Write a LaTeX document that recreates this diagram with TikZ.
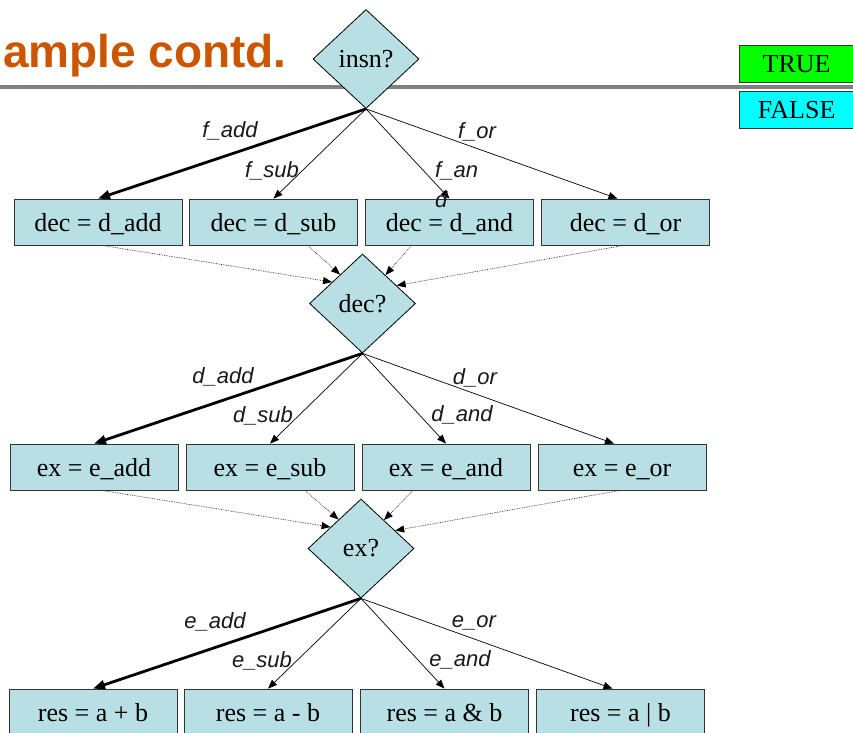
\documentclass[tikz,border=0pt]{standalone}
\usepackage{fontspec}
\setmainfont{Liberation Serif}
\setsansfont{Liberation Sans}
\usetikzlibrary{shapes.geometric,arrows.meta,calc}
\definecolor{boxfill}{RGB}{184,224,228}
\definecolor{titleorange}{RGB}{204,85,0}
\definecolor{rulegray}{RGB}{128,128,128}
\definecolor{edgegray}{RGB}{51,51,51}
\definecolor{truegreen}{RGB}{0,255,0}
\definecolor{falsecyan}{RGB}{0,255,255}

\begin{document}
\begin{tikzpicture}[x=1pt,y=-1pt,
  stepbox/.style={draw=edgegray, line width=0.8pt, fill=boxfill, minimum width=168pt,
    minimum height=46pt, inner sep=0pt, text height=21pt, text depth=3pt,
    font=\fontsize{26}{30}\selectfont},
  decision/.style={diamond, aspect=1.07, draw=black, line width=0.8pt, fill=boxfill,
    minimum width=106pt, minimum height=99pt, inner sep=0pt, font=\fontsize{26}{30}\selectfont},
  lbl/.style={font=\sffamily\itshape\fontsize{22}{30}\selectfont, inner sep=0pt, text=black!90},
  taken/.style={line width=2.8pt, -{Triangle[length=12pt,width=9pt]}},
  branch/.style={line width=0.7pt, -{Triangle[length=9pt,width=7pt]}},
  merge/.style={line width=0.7pt, densely dotted, draw=black!85,
    -{Triangle[length=9pt,width=7pt,color=black]}},
  legend/.style={draw=edgegray, line width=0.8pt, minimum width=114.5pt, minimum height=37pt,
    inner sep=0pt, text height=21pt, text depth=3pt, font=\fontsize{26}{30}\selectfont}
]
\clip (0,0) rectangle (853,732);

% heading and rule
\node[anchor=base east, font=\sffamily\bfseries\fontsize{46}{52}\selectfont,
  text=titleorange, inner sep=0pt] (title) at (287,67) {ample contd.};
\fill[rulegray] (0,85) rectangle (853,89);

% legend
\node[legend, fill=truegreen, anchor=north west] (ltrue) at (739,45) {TRUE};
\node[legend, fill=falsecyan, anchor=north west] (lfalse) at (739,91) {FALSE};

% decisions
\node[decision] (insn) at (366,59) {insn?};
\node[decision] (dec) at (362.5,303.5) {dec?};
\node[decision] (ex) at (361,548.5) {ex?};

% decode row
\node[stepbox] (d1) at (98,222) {dec = d\_add};
\node[stepbox] (d2) at (273.5,222) {dec = d\_sub};
\node[stepbox] (d3) at (449.5,222) {dec = d\_and};
\node[stepbox] (d4) at (625.5,222) {dec = d\_or};

% execute row
\node[stepbox] (e1) at (94,467) {ex = e\_add};
\node[stepbox] (e2) at (270,467) {ex = e\_sub};
\node[stepbox] (e3) at (446,467) {ex = e\_and};
\node[stepbox] (e4) at (622,467) {ex = e\_or};

% result row
\node[stepbox] (r1) at (93,712) {res = a + b};
\node[stepbox] (r2) at (268,712) {res = a - b};
\node[stepbox] (r3) at (444.5,712) {res = a \& b};
\node[stepbox] (r4) at (620.5,712) {res = a | b};

% branches out of insn?
\draw[taken] (insn.south) -- (d1.north);
\draw[branch] (insn.south) -- (d2.north);
\draw[branch] (insn.south) -- (d3.north);
\draw[branch] (insn.south) -- ([xshift=-8pt]d4.north);
\node[lbl] (lfadd) at (230,131) {f\_add};
\node[lbl] (lfsub) at (272,171) {f\_sub};
\node[lbl, align=left, anchor=north west, font=\sffamily\itshape\fontsize{22}{30}\selectfont]
  (lfand) at (435,161) {f\_an\\d};
\node[lbl] (lfor) at (477,132) {f\_or};

% merging into dec?
\draw[merge] ([xshift=4pt]d1.south) -- ($(dec.west)!0.43!(dec.north)$);
\draw[merge] ([xshift=34pt]d2.south) -- ($(dec.west)!0.58!(dec.north)$);
\draw[merge] ([xshift=-38pt]d3.south) -- ($(dec.north)!0.43!(dec.east)$);
\draw[merge] ([xshift=-2pt]d4.south) -- ($(dec.north)!0.64!(dec.east)$);

% branches out of dec?
\draw[taken] (dec.south) -- (e1.north);
\draw[branch] (dec.south) -- (e2.north);
\draw[branch] (dec.south) -- (e3.north);
\draw[branch] (dec.south) -- ([xshift=-8pt]e4.north);
\node[lbl] (ldadd) at (223,377) {d\_add};
\node[lbl] (ldsub) at (263,416) {d\_sub};
\node[lbl] (ldand) at (462,415) {d\_and};
\node[lbl] (ldor) at (475,378) {d\_or};

% merging into ex?
\draw[merge] ([xshift=8pt]e1.south) -- ($(ex.west)!0.43!(ex.north)$);
\draw[merge] ([xshift=35pt]e2.south) -- ($(ex.west)!0.58!(ex.north)$);
\draw[merge] ([xshift=-33pt]e3.south) -- ($(ex.north)!0.43!(ex.east)$);
\draw[merge] ([xshift=-2pt]e4.south) -- ($(ex.north)!0.64!(ex.east)$);

% branches out of ex?
\draw[taken] (ex.south) -- (r1.north);
\draw[branch] (ex.south) -- (r2.north);
\draw[branch] (ex.south) -- (r3.north);
\draw[branch] (ex.south) -- ([xshift=-8pt]r4.north);
\node[lbl] (leadd) at (215,622) {e\_add};
\node[lbl] (lesub) at (262,661) {e\_sub};
\node[lbl] (leand) at (460,660) {e\_and};
\node[lbl] (leor) at (474,623) {e\_or};
\end{tikzpicture}
\end{document}
